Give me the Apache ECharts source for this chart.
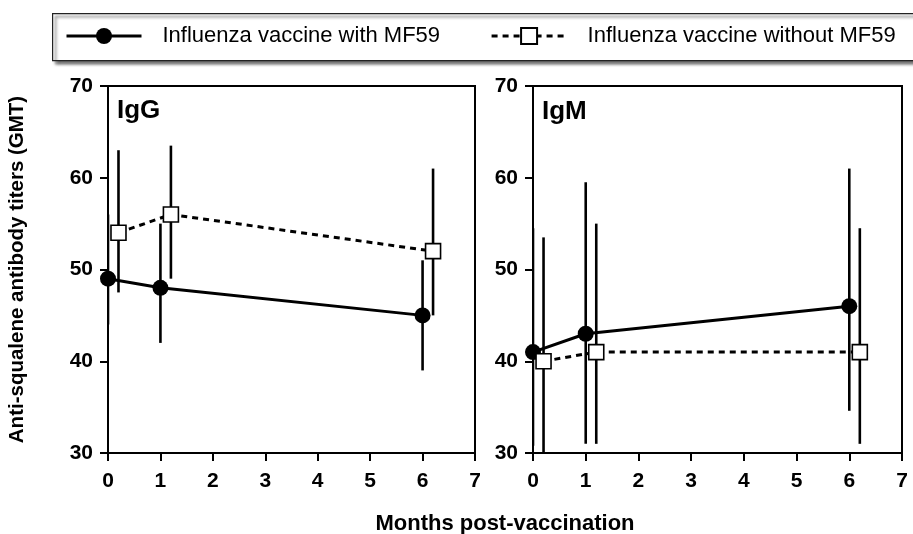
<!DOCTYPE html>
<html>
<head>
<meta charset="utf-8">
<script src="https://cdn.jsdelivr.net/npm/echarts@6/dist/echarts.min.js"></script>
<style>html,body{margin:0;padding:0;background:#fff;}#c{width:913px;height:534px;}</style>
</head>
<body>
<div id="c"></div>
<script>
// ---- data ----
var monthsWith = [0, 1, 6];
var monthsWithout = [0.2, 1.2, 6.2];
var xTicks = [0, 1, 2, 3, 4, 5, 6, 7];
var yTicks = [30, 40, 50, 60, 70];

var igG_with = [49, 48, 45];
var igG_with_low = [44, 42, 39];
var igG_with_high = [56, 55, 51];
var igG_without = [54, 56, 52];
var igG_without_low = [47.5, 49, 45];
var igG_without_high = [63, 63.5, 61];

var igM_with = [41, 43, 46];
var igM_with_low = [30.8, 31, 34.6];
var igM_with_high = [54.5, 59.5, 61];
var igM_without = [40, 41, 41];
var igM_without_low = [30, 31, 31];
var igM_without_high = [53.5, 55, 54.5];

var seriesNames = ['Influenza vaccine with MF59', 'Influenza vaccine without MF59'];
var panelNames = ['IgG', 'IgM'];

var FONT = "'Liberation Sans', Arial, Helvetica, sans-serif";

function pairs(xs, ys) { return xs.map(function (x, i) { return [x, ys[i]]; }); }
function bars(xs, lo, hi) { return xs.map(function (x, i) { return [x, lo[i], hi[i]]; }); }

function errRender(params, api) {
  var p1 = api.coord([api.value(0), api.value(1)]);
  var p2 = api.coord([api.value(0), api.value(2)]);
  return { type: 'line', shape: { x1: p1[0], y1: p1[1], x2: p2[0], y2: p2[1] },
           style: { stroke: '#000', lineWidth: 2.6 } };
}

function axisX(idx) {
  return {
    type: 'value', gridIndex: idx, min: xTicks[0], max: xTicks[xTicks.length - 1], interval: 1,
    axisLine: { lineStyle: { color: '#000', width: 2 } },
    axisTick: { length: 8, lineStyle: { color: '#000', width: 2 } },
    axisLabel: { color: '#000', fontFamily: FONT, fontWeight: 'bold', fontSize: 21, margin: 18 },
    splitLine: { show: false }
  };
}
function axisY(idx, withName) {
  var a = {
    type: 'value', gridIndex: idx, min: yTicks[0], max: yTicks[yTicks.length - 1], interval: 10,
    axisLine: { lineStyle: { color: '#000', width: 2 } },
    axisTick: { length: 8, lineStyle: { color: '#000', width: 2 } },
    axisLabel: { color: '#000', fontFamily: FONT, fontWeight: 'bold', fontSize: 21, margin: 15 },
    splitLine: { show: false }
  };
  if (withName) {
    a.name = 'Anti-squalene antibody titers (GMT)';
    a.nameLocation = 'middle';
    a.nameGap = 80;
    a.nameTextStyle = { color: '#000', fontFamily: FONT, fontWeight: 'bold', fontSize: 20.5 };
  }
  return a;
}

function lineSeries(name, idx, data, filled) {
  return {
    name: name, type: 'line', xAxisIndex: idx, yAxisIndex: idx, data: data, z: 5,
    symbol: filled ? 'circle' : 'rect', symbolSize: filled ? 16 : 15,
    lineStyle: { color: '#000', width: 3, type: filled ? 'solid' : [6, 5] },
    itemStyle: filled ? { color: '#000', borderColor: '#000', borderWidth: 0 }
                      : { color: '#fff', borderColor: '#000', borderWidth: 1.6 },
    emphasis: { disabled: true }, animation: false
  };
}
function errSeries(idx, data) {
  return { type: 'custom', xAxisIndex: idx, yAxisIndex: idx, data: data, renderItem: errRender,
           clip: true, z: 3, silent: true, animation: false };
}

var chart = echarts.init(document.getElementById('c'), null, { renderer: 'canvas' });
chart.setOption({
  backgroundColor: '#fff',
  animation: false,
  graphic: [
    { type: 'rect', left: 52, top: 13, z: -10,
      shape: { width: 900, height: 47 },
      style: { fill: '#fff', stroke: '#222', lineWidth: 1.2,
               shadowBlur: 3, shadowOffsetX: 3, shadowOffsetY: 3, shadowColor: 'rgba(0,0,0,0.6)' } },
    { type: 'text', x: 505, y: 524,
      style: { text: 'Months post-vaccination', fill: '#000', font: 'bold 22px ' + FONT,
               textAlign: 'center', textVerticalAlign: 'middle' } }
  ],
  title: [
    { text: panelNames[0], left: 117, top: 98, padding: 0,
      textStyle: { color: '#000', fontFamily: FONT, fontWeight: 'bold', fontSize: 26 } },
    { text: panelNames[1], left: 542, top: 99, padding: 0,
      textStyle: { color: '#000', fontFamily: FONT, fontWeight: 'bold', fontSize: 26 } }
  ],
  legend: {
    data: seriesNames, left: 65, top: 25, padding: 0, itemGap: 50,
    itemWidth: 75, itemHeight: 20,
    lineStyle: { width: 3 },
    textStyle: { color: '#000', fontFamily: FONT, fontSize: 22, padding: [6, 0, 0, 16] },
    selectedMode: false
  },
  grid: [
    { left: 108, top: 86, width: 367, height: 367, show: true, borderColor: '#000', borderWidth: 2 },
    { left: 533, top: 86, width: 369, height: 367, show: true, borderColor: '#000', borderWidth: 2 }
  ],
  xAxis: [axisX(0), axisX(1)],
  yAxis: [axisY(0, true), axisY(1, false)],
  series: [
    errSeries(0, bars(monthsWith, igG_with_low, igG_with_high)),
    errSeries(0, bars(monthsWithout, igG_without_low, igG_without_high)),
    lineSeries(seriesNames[0], 0, pairs(monthsWith, igG_with), true),
    lineSeries(seriesNames[1], 0, pairs(monthsWithout, igG_without), false),
    errSeries(1, bars(monthsWith, igM_with_low, igM_with_high)),
    errSeries(1, bars(monthsWithout, igM_without_low, igM_without_high)),
    lineSeries(seriesNames[0], 1, pairs(monthsWith, igM_with), true),
    lineSeries(seriesNames[1], 1, pairs(monthsWithout, igM_without), false)
  ]
});
</script>
</body>
</html>
